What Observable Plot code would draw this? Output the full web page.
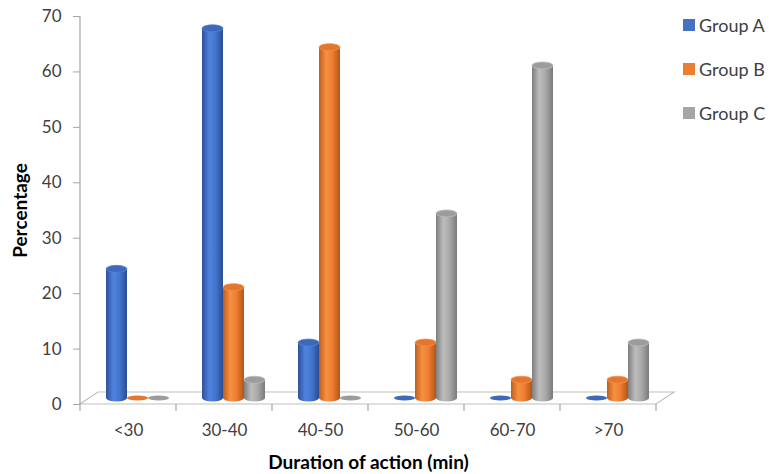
<!DOCTYPE html>
<html><head><meta charset="utf-8">
<script src="https://cdn.jsdelivr.net/npm/d3@7"></script>
<script src="https://cdn.jsdelivr.net/npm/@observablehq/plot@0.6"></script>
<style>
body{margin:0;background:#fff;}
#wrap{position:relative;width:769px;height:474px;font-family:Lato,sans-serif;}
#legend{position:absolute;left:683px;top:0;width:86px;height:140px;}
.item{position:absolute;left:0;height:20px;display:flex;align-items:center;font-size:18px;color:#404040;white-space:nowrap;font-family:Lato,sans-serif}
.sw{width:12px;height:12px;margin-right:4px;flex:none}
svg [aria-label="y-axis label"], svg [aria-label="fx-axis label"]{font-weight:bold;fill:#000;font-size:19px}
</style></head><body><div id="wrap"><div id="legend"></div></div>
<script>
const categories = ["<30","30-40","40-50","50-60","60-70",">70"];
const groups = ["Group A","Group B","Group C"];
const groupA = [23.3,66.7,10,0,0,0];
const groupB = [0,20,63.3,10,3.3,3.3];
const groupC = [0,3.3,0,33.3,60,10];
const yTicks = [0,10,20,30,40,50,60,70];
const baseColors = ["#4472C4","#ED7D31","#A5A5A5"];
const gradStops = [
  ["#2c5299","#4f84de","#4375cf","#2a4d8f"],
  ["#bf5e1c","#f79044","#ec7c30","#b35616"],
  ["#7e7e7e","#bdbdbd","#a8a8a8","#7a7a7a"]
];
const topColors = ["#3d69b8","#e4772d","#9c9c9c"];

const series = [groupA, groupB, groupC];
const table = [];
categories.forEach((c, i) => groups.forEach((g, j) => table.push({cat: c, group: g, gi: j, value: series[j][i]})));

function cylinders(index, scales, values, dimensions, context, next) {
  const g = next(index, scales, values, dimensions, context);
  const ns = "http://www.w3.org/2000/svg";
  const rects = Array.from(g.querySelectorAll("rect"));
  for (const r of rects) {
    const x = +r.getAttribute("x"), y = +r.getAttribute("y");
    const w = +r.getAttribute("width"), h = +r.getAttribute("height");
    const fill = r.getAttribute("fill") || "";
    const gi = +(fill.match(/g(\d)/) || [0, 0])[1];
    const cx = x + w / 2;
    const ry = 3.5;
    if (h < 1) {
      const e = document.createElementNS(ns, "ellipse");
      e.setAttribute("cx", cx); e.setAttribute("cy", y + h);
      e.setAttribute("rx", w / 2); e.setAttribute("ry", 2.5);
      e.setAttribute("fill", topColors[gi]);
      r.parentNode.insertBefore(e, r);
      r.remove();
      continue;
    }
    const b = document.createElementNS(ns, "ellipse");
    b.setAttribute("cx", cx); b.setAttribute("cy", y + h);
    b.setAttribute("rx", w / 2); b.setAttribute("ry", ry);
    b.setAttribute("fill", fill);
    r.parentNode.insertBefore(b, r);
    const t = document.createElementNS(ns, "ellipse");
    t.setAttribute("cx", cx); t.setAttribute("cy", y);
    t.setAttribute("rx", w / 2); t.setAttribute("ry", ry);
    t.setAttribute("fill", topColors[gi]);
    t.setAttribute("stroke", gradStops[gi][1]);
    t.setAttribute("stroke-width", 0.8);
    r.parentNode.insertBefore(t, r.nextSibling);
  }
  return g;
}

const plot = Plot.plot({
  width: 769,
  height: 474,
  marginLeft: 79,
  marginRight: 112,
  marginTop: 16,
  marginBottom: 70,
  style: {fontFamily: "Lato, sans-serif", fontSize: "17px", color: "#404040", background: "#fff"},
  fx: {domain: categories, padding: 0},
  x: {domain: groups, paddingInner: 0, paddingOuter: 0.75, axis: null},
  y: {domain: [0, 70]},
  color: {type: "identity"},
  marks: [
    Plot.axisY({ticks: yTicks, tickSize: 7, tickPadding: 12, stroke: "#a6a6a6", fill: "#404040",
      label: "Percentage", labelAnchor: "center", labelOffset: 67, labelArrow: "none", tickFormat: d => String(d)}),
    Plot.axisFx({anchor: "bottom", tickSize: 0, tickPadding: 19, fill: "#404040",
      label: "Duration of action (min)", labelAnchor: "center", labelOffset: 64, labelArrow: "none"}),
    Plot.barY(table, {fx: "cat", x: "group", y: "value", fill: d => "url(#g" + d.gi + ")", dx: 9, dy: -6, render: cylinders})
  ]
});

const svg = plot.tagName.toLowerCase() === "svg" ? plot : plot.querySelector("svg");
const ns = "http://www.w3.org/2000/svg";
// gradients
const defs = document.createElementNS(ns, "defs");
gradStops.forEach((stops, i) => {
  const lg = document.createElementNS(ns, "linearGradient");
  lg.setAttribute("id", "g" + i);
  lg.setAttribute("x1", "0"); lg.setAttribute("x2", "1"); lg.setAttribute("y1", "0"); lg.setAttribute("y2", "0");
  [0, 0.35, 0.65, 1].forEach((o, k) => {
    const s = document.createElementNS(ns, "stop");
    s.setAttribute("offset", o); s.setAttribute("stop-color", stops[k]);
    lg.appendChild(s);
  });
  defs.appendChild(lg);
});
svg.insertBefore(defs, svg.firstChild);

// floor, axis line, band ticks from the plot's scales
const fxS = plot.scale("fx"), yS = plot.scale("y");
const left = fxS.apply(categories[0]);
const right = fxS.apply(categories[categories.length - 1]) + fxS.bandwidth;
const y0 = yS.apply(0), yTop = yS.apply(70);
const dX = 18, dY = -12;
const deco = d3.create("svg:g").attr("fill", "none").attr("stroke", "#bfbfbf").attr("stroke-width", 1.2);
deco.append("path").attr("fill", "#fff")
  .attr("d", `M${left},${y0}L${right},${y0}L${right + dX},${y0 + dY}L${left + dX},${y0 + dY}Z`);
deco.append("line").attr("x1", left).attr("x2", left).attr("y1", yTop).attr("y2", y0).attr("stroke", "#a6a6a6");
categories.concat([null]).forEach((c, i) => {
  const bx = c === null ? right : fxS.apply(c);
  deco.append("line").attr("x1", bx).attr("x2", bx).attr("y1", y0).attr("y2", y0 + 7).attr("stroke", "#a6a6a6");
});
svg.insertBefore(deco.node(), defs.nextSibling);

document.getElementById("wrap").prepend(plot);
plot.style.position = "absolute"; plot.style.left = "0"; plot.style.top = "0";

const legend = document.getElementById("legend");
const legendY = [25, 69, 113];
groups.forEach((g, i) => {
  const it = document.createElement("div");
  it.className = "item";
  it.style.top = (legendY[i] - 10) + "px";
  it.innerHTML = `<span class="sw" style="background:${baseColors[i]}"></span><span>${g}</span>`;
  legend.appendChild(it);
});
</script>
</body></html>
